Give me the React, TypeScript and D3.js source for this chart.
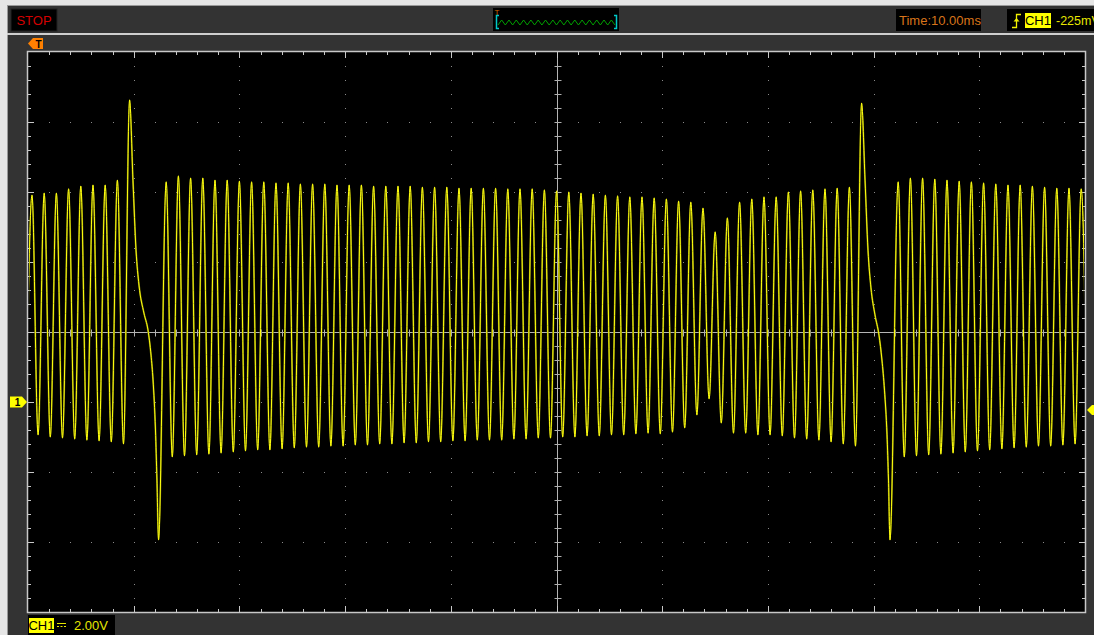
import React from "react";
import * as d3 from "d3";

const W = 1094;
const H = 635;

// Scope settings: 10 ms/div horizontally, 2 V/div vertically
const TIME_DOMAIN_MS: [number, number] = [0, 100];
const VOLT_DOMAIN: [number, number] = [-6, 10];
const MS_PER_DIV = 10;
const V_PER_DIV = 2;
const TRIGGER_LEVEL_V = -0.225;
const CENTER_V = 2;

// CH1 trace: one peak and one trough per cycle
const FIRST_PEAK_MS = 0.378;
const PERIOD_MS = 1.1542;
const LEAD_TROUGH_V = -0.9;

const peakV: (number | null)[] = [
  5.91, 5.97, 5.97, 6.09, 6.17, 6.2, 6.2, 6.34, 8.63, null,
  null, 6.29, 6.46, 6.4, 6.4, 6.34, 6.34, 6.31, 6.29, 6.29,
  6.26, 6.26, 6.23, 6.23, 6.23, 6.2, 6.2, 6.2, 6.17, 6.17,
  6.17, 6.17, 6.14, 6.14, 6.14, 6.11, 6.11, 6.11, 6.11, 6.09,
  6.09, 6.09, 6.06, 6.03, 6.0, 5.97, 5.94, 5.91, 5.89, 5.86,
  5.86, 5.83, 5.8, 5.74, 5.71, 5.54, 4.86, 5.26, 5.71, 5.8,
  5.86, 5.86, 6.0, 6.03, 6.06, 6.09, 6.11, 6.14, 8.54, null,
  null, 6.29, 6.4, 6.4, 6.37, 6.34, 6.31, 6.29, 6.26, 6.23,
  6.2, 6.2, 6.17, 6.14, 6.11, 6.11, 6.09,
];

const troughV: (number | null)[] = [
  -0.94, -1.0, -1.03, -1.06, -1.09, -1.11, -1.14, -1.2, null, null,
  null, -1.57, -1.54, -1.51, -1.49, -1.46, -1.43, -1.4, -1.37, -1.37,
  -1.34, -1.31, -1.29, -1.29, -1.26, -1.26, -1.23, -1.23, -1.2, -1.2,
  -1.17, -1.17, -1.14, -1.14, -1.11, -1.11, -1.09, -1.09, -1.09, -1.06,
  -1.06, -1.03, -1.03, -1.0, -1.0, -0.97, -0.97, -0.94, -0.94, -0.91,
  -0.89, -0.91, -0.86, -0.74, -0.37, 0.09, -0.6, -0.89, -0.89, -0.94,
  -0.94, -0.97, -1.03, -1.06, -1.09, -1.14, -1.2, -1.26, null, null,
  null, -1.57, -1.54, -1.51, -1.49, -1.46, -1.43, -1.4, -1.37, -1.34,
  -1.31, -1.29, -1.26, -1.26, -1.23, -1.2, -1.2,
];

// Disturbances: the decay that follows each large spike (ms, V)
const GLITCH_AT = [8, 68];
const glitch1Ms = [9.93, 10.22, 10.5, 10.97, 11.35, 11.64, 11.83, 12.06, 12.2, 12.35];
const glitch1V = [6.34, 4.34, 3.34, 2.54, 2.06, 1.34, 0.63, -0.8, -2.23, -3.94];
const glitch2Ms = [79.19, 79.47, 79.75, 80.13, 80.51, 80.79, 81.03, 81.27, 81.41, 81.55];
const glitch2V = [6.34, 4.34, 3.26, 2.49, 1.91, 1.2, 0.34, -0.94, -2.23, -3.94];
const glitchMs = [glitch1Ms, glitch2Ms];
const glitchV = [glitch1V, glitch2V];

// Status bar texts
const RUN_STATE = "STOP";
const TIMEBASE_LABEL = "Time:10.00ms";
const CH_LABEL = "CH1";
const TRIG_LABEL = "-225mV";
const SCALE_LABEL = "2.00V";
const OVERVIEW_CYCLES = 16;

const PLOT = { left: 28, top: 52, right: 1085, bottom: 612 };
const FONT = "'Liberation Sans', Arial, sans-serif";

export default function App() {
  const x = d3.scaleLinear().domain(TIME_DOMAIN_MS).range([PLOT.left, PLOT.right]);
  const y = d3.scaleLinear().domain(VOLT_DOMAIN).range([PLOT.bottom, PLOT.top]);

  const pts: [number, number][] = [[FIRST_PEAK_MS - PERIOD_MS / 2, LEAD_TROUGH_V]];
  peakV.forEach((p, k) => {
    const t = FIRST_PEAK_MS + k * PERIOD_MS;
    if (p != null) pts.push([t, p]);
    const g = GLITCH_AT.indexOf(k);
    if (g >= 0) glitchMs[g].forEach((gt, i) => pts.push([gt, glitchV[g][i]]));
    const tr = troughV[k];
    if (tr != null) pts.push([t + PERIOD_MS / 2, tr]);
  });

  const line = d3
    .line<[number, number]>()
    .x((d) => x(d[0]))
    .y((d) => y(d[1]))
    .curve(d3.curveMonotoneX);
  const tracePath = line(pts) ?? "";

  // grid helpers
  const minorT = d3.range(TIME_DOMAIN_MS[0], TIME_DOMAIN_MS[1] + 0.001, MS_PER_DIV / 5);
  const minorV = d3.range(VOLT_DOMAIN[0], VOLT_DOMAIN[1] + 0.001, V_PER_DIV / 5);
  const divT = d3.range(TIME_DOMAIN_MS[0] + MS_PER_DIV, TIME_DOMAIN_MS[1], MS_PER_DIV);
  const divV = d3.range(VOLT_DOMAIN[0] + V_PER_DIV, VOLT_DOMAIN[1], V_PER_DIV);
  const centerT = (TIME_DOMAIN_MS[0] + TIME_DOMAIN_MS[1]) / 2;
  const isMajorT = (t: number) => Math.abs(t / MS_PER_DIV - Math.round(t / MS_PER_DIV)) < 1e-6;
  const isMajorV = (v: number) => Math.abs(v / V_PER_DIV - Math.round(v / V_PER_DIV)) < 1e-6;

  const dots: JSX.Element[] = [];
  divT.forEach((t) => {
    if (Math.abs(t - centerT) < 1e-6) return;
    minorV.forEach((v, i) => {
      if (i === 0 || i === minorV.length - 1) return;
      dots.push(<rect key={`vt${t}-${i}`} x={Math.round(x(t))} y={Math.round(y(v))} width={1} height={1} fill="#8a8a8a" />);
    });
  });
  divV.forEach((v) => {
    if (Math.abs(v - CENTER_V) < 1e-6) return;
    minorT.forEach((t, i) => {
      if (i === 0 || i === minorT.length - 1) return;
      dots.push(<rect key={`hv${v}-${i}`} x={Math.round(x(t))} y={Math.round(y(v))} width={1} height={1} fill="#8a8a8a" />);
    });
  });

  const tickColor = "#c8c8c8";
  const ticks: JSX.Element[] = [];
  minorT.forEach((t, i) => {
    if (i === 0 || i === minorT.length - 1) return;
    const xx = Math.round(x(t)) + 0.5;
    const len = isMajorT(t) ? 6 : 3;
    ticks.push(<line key={`tt${i}`} x1={xx} x2={xx} y1={PLOT.top} y2={PLOT.top + len} stroke={tickColor} />);
    ticks.push(<line key={`tb${i}`} x1={xx} x2={xx} y1={PLOT.bottom} y2={PLOT.bottom - len} stroke={tickColor} />);
    const cy = Math.round(y(CENTER_V)) + 0.5;
    ticks.push(<line key={`tc${i}`} x1={xx} x2={xx} y1={cy - 3} y2={cy + 4} stroke="#b0b0b0" />);
  });
  minorV.forEach((v, i) => {
    if (i === 0 || i === minorV.length - 1) return;
    const yy = Math.round(y(v)) + 0.5;
    const len = isMajorV(v) ? 6 : 3;
    ticks.push(<line key={`vl${i}`} x1={PLOT.left} x2={PLOT.left + len} y1={yy} y2={yy} stroke={tickColor} />);
    ticks.push(<line key={`vr${i}`} x1={PLOT.right} x2={PLOT.right - len} y1={yy} y2={yy} stroke={tickColor} />);
    const cx = Math.round(x(centerT)) + 0.5;
    ticks.push(<line key={`vc${i}`} x1={cx - 3} x2={cx + 4} y1={yy} y2={yy} stroke="#b0b0b0" />);
  });

  // overview zigzag in the top bar
  const zz: [number, number][] = d3.range(OVERVIEW_CYCLES * 2 + 1).map((i) => [
    498 + (i * (615 - 498)) / (OVERVIEW_CYCLES * 2),
    i % 2 === 0 ? 25 : 20,
  ]);
  const zzPath = d3.line()(zz) ?? "";

  const groundY = y(0);
  const trigY = y(TRIGGER_LEVEL_V);

  return (
    <div style={{ position: "fixed", left: 0, top: 0, width: W, height: H }}>
      <svg width={W} height={H} style={{ display: "block" }} fontFamily={FONT}>
        <rect x={0} y={0} width={W} height={H} fill="#e6e6e6" />
        <rect x={7} y={5} width={W - 7} height={H - 5} fill="#333333" />
        <line x1={7.5} x2={7.5} y1={5} y2={H} stroke="#9a9a9a" />
        <line x1={7} x2={W} y1={5.5} y2={5.5} stroke="#9a9a9a" />

        {/* top status bar */}
        <rect x={11} y={9} width={46} height={22} fill="#000" stroke="#222" />
        <text x={34} y={24.5} textAnchor="middle" fontSize={13} fill="#d40000">{RUN_STATE}</text>

        <rect x={493} y={8} width={126} height={23} fill="#000" />
        <path d={zzPath} fill="none" stroke="#00a000" strokeWidth={1} />
        <path d="M499,15.5 h-2.5 v13 h2.5" fill="none" stroke="#00c8c8" strokeWidth={1.5} />
        <path d="M614,15.5 h2.5 v13 h-2.5" fill="none" stroke="#00c8c8" strokeWidth={1.5} />
        <text x={494.5} y={15} fontSize={8} fill="#d06000">T</text>

        <rect x={896} y={9} width={85} height={22} fill="#000" />
        <text x={899} y={25} fontSize={13} fill="#d8741a">{TIMEBASE_LABEL}</text>

        <rect x={1007} y={9} width={W - 1007} height={22} fill="#000" />
        <path d="M1012,27.5 h4.5 v-13 h4.5" fill="none" stroke="#f0f000" strokeWidth={1.3} />
        <path d="M1013.5,21.5 l3,-3.5 l3,3.5 z" fill="#f0f000" />
        <rect x={1025} y={13} width={26} height={15} fill="#ffff00" />
        <text x={1038} y={25} textAnchor="middle" fontSize={13} fill="#000">{CH_LABEL}</text>
        <text x={1056} y={25} fontSize={12.5} fill="#e6e600">{TRIG_LABEL}</text>

        <rect x={7} y={33} width={W - 7} height={2} fill="#cfcfcf" />

        {/* trigger position marker */}
        <path d="M28,43.5 L33,38 H43 V49 H33 Z" fill="#ff8000" />
        <text x={38.5} y={47.5} textAnchor="middle" fontSize={10} fontWeight="bold" fill="#000">T</text>

        {/* plot area */}
        <rect x={PLOT.left} y={PLOT.top} width={PLOT.right - PLOT.left} height={PLOT.bottom - PLOT.top} fill="#000" />
        {dots}
        <line x1={PLOT.left} x2={PLOT.right} y1={Math.round(y(CENTER_V)) + 0.5} y2={Math.round(y(CENTER_V)) + 0.5} stroke="#b4b4b4" />
        <line x1={Math.round(x(centerT)) + 0.5} x2={Math.round(x(centerT)) + 0.5} y1={PLOT.top} y2={PLOT.bottom} stroke="#b4b4b4" />
        {ticks}

        <defs>
          <clipPath id="plotClip">
            <rect x={PLOT.left + 1} y={PLOT.top + 1} width={PLOT.right - PLOT.left - 2} height={PLOT.bottom - PLOT.top - 2} />
          </clipPath>
        </defs>
        <g clipPath="url(#plotClip)">
          <path d={tracePath} fill="none" stroke="#6c6c00" strokeWidth={1.8} />
          <path d={tracePath} fill="none" stroke="#ffff10" strokeWidth={1} />
        </g>

        <rect x={PLOT.left - 0.5} y={PLOT.top - 0.5} width={PLOT.right - PLOT.left + 1} height={PLOT.bottom - PLOT.top + 1} fill="none" stroke="#c8c8c8" strokeWidth={1.5} />

        {/* channel ground marker */}
        <path d={`M10,${groundY - 5.5} H22 L27,${groundY} L22,${groundY + 5.5} H10 Z`} fill="#ffff00" />
        <text x={17.5} y={groundY + 4} textAnchor="middle" fontSize={10} fontWeight="bold" fill="#000">1</text>

        {/* trigger level marker */}
        <path d={`M1087,${trigY} L1092,${trigY - 5} L1094,${trigY - 5} L1094,${trigY + 5} L1092,${trigY + 5} Z`} fill="#ffff00" />

        {/* bottom channel scale */}
        <rect x={28} y={615} width={87} height={20} fill="#000" />
        <rect x={29} y={618} width={25} height={15} fill="#ffff00" />
        <text x={41.5} y={630} textAnchor="middle" fontSize={13} fill="#000">{CH_LABEL}</text>
        <line x1={57} x2={66} y1={623.5} y2={623.5} stroke="#e6e600" />
        <line x1={57} x2={66} y1={626.5} y2={626.5} stroke="#e6e600" strokeDasharray="2,1.5" />
        <text x={74} y={630} fontSize={13} fill="#e6e600">{SCALE_LABEL}</text>
      </svg>
    </div>
  );
}
